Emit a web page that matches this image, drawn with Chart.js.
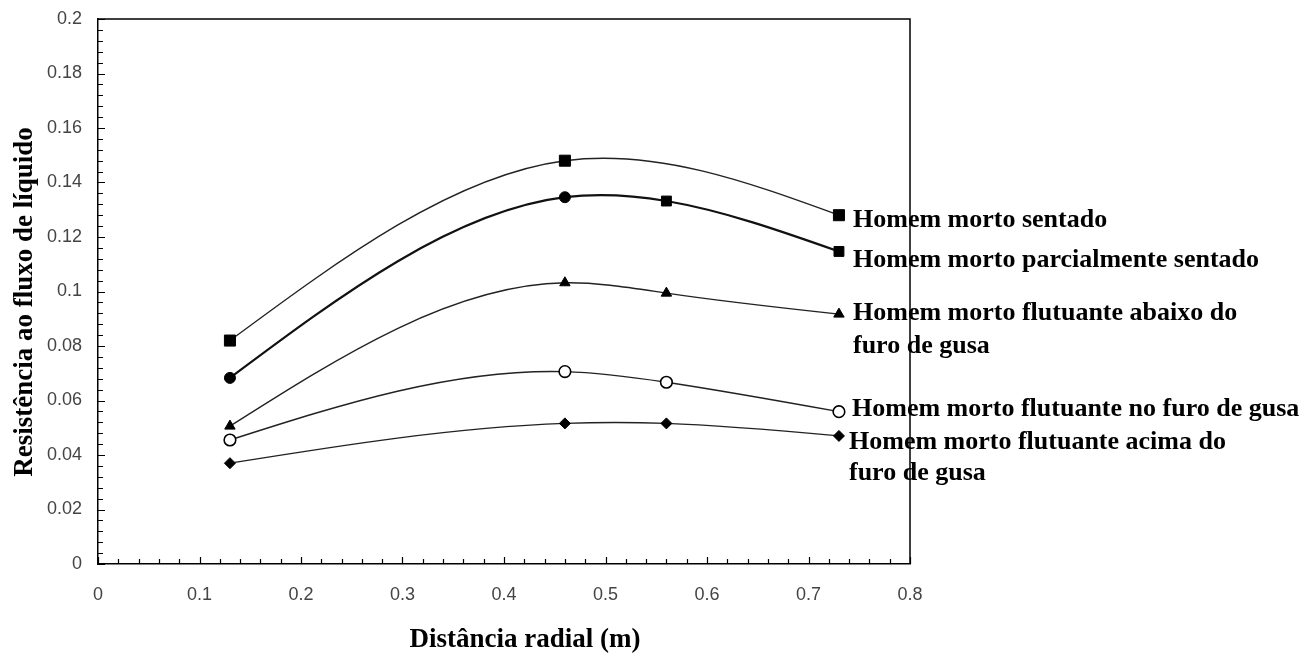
<!DOCTYPE html>
<html>
<head>
<meta charset="utf-8">
<script src="https://cdn.jsdelivr.net/npm/chart.js@4/dist/chart.umd.min.js"></script>
<style>
  html, body { margin: 0; padding: 0; background: #fff; }
  #wrap { width: 1311px; height: 655px; }
</style>
</head>
<body>
<div id="wrap"><canvas id="chart" width="1311" height="655"></canvas></div>
<script>
// radial positions (m)
const xAll = [0.13, 0.46, 0.56, 0.73];
const xSentado = [0.13, 0.46, 0.73];

// resistance values
const ySentado = [0.082, 0.148, 0.128];
const yParcial = [0.0683, 0.1346, 0.1332, 0.1147];
const yAbaixo = [0.0506, 0.1032, 0.0994, 0.0917];
const yNoFuro = [0.0455, 0.0706, 0.0667, 0.0559];
const yAcima = [0.037, 0.0516, 0.0516, 0.047];

const xTicks = [0, 0.1, 0.2, 0.3, 0.4, 0.5, 0.6, 0.7, 0.8];
const yTicks = [0, 0.02, 0.04, 0.06, 0.08, 0.1, 0.12, 0.14, 0.16, 0.18, 0.2];

const seriesLabels = [
    ['Homem morto sentado'],
    ['Homem morto parcialmente sentado'],
    ['Homem morto flutuante abaixo do', 'furo de gusa'],
    ['Homem morto flutuante no furo de gusa'],
    ['Homem morto flutuante acima do', 'furo de gusa']
];

function pts(xs, ys) {
    return xs.map((x, i) => ({ x: x, y: ys[i] }));
}

const serif = '"Liberation Serif", "Times New Roman", serif';

// natural cubic spline through the points chart.js placed,
// written into the line's bezier control points
function naturalSpline(points) {
    const n = points.length;
    if (n < 3) return;
    const x = points.map(p => p.x), y = points.map(p => p.y);
    const h = [];
    for (let i = 0; i < n - 1; i++) h.push(x[i + 1] - x[i]);
    // tridiagonal system for second derivatives, M0 = Mn-1 = 0
    const a = [], b = [], c = [], d = [];
    for (let i = 1; i < n - 1; i++) {
        a.push(h[i - 1]);
        b.push(2 * (h[i - 1] + h[i]));
        c.push(h[i]);
        d.push(6 * ((y[i + 1] - y[i]) / h[i] - (y[i] - y[i - 1]) / h[i - 1]));
    }
    const m = d.length;
    for (let i = 1; i < m; i++) {
        const w = a[i] / b[i - 1];
        b[i] -= w * c[i - 1];
        d[i] -= w * d[i - 1];
    }
    const inner = new Array(m);
    for (let i = m - 1; i >= 0; i--) {
        inner[i] = (d[i] - (i < m - 1 ? c[i] * inner[i + 1] : 0)) / b[i];
    }
    const M = [0].concat(inner, [0]);
    for (let i = 0; i < n - 1; i++) {
        const s = (y[i + 1] - y[i]) / h[i];
        const d0 = s - h[i] * (2 * M[i] + M[i + 1]) / 6;
        const d1 = s + h[i] * (M[i] + 2 * M[i + 1]) / 6;
        points[i].cp2x = x[i] + h[i] / 3;
        points[i].cp2y = y[i] + d0 * h[i] / 3;
        points[i + 1].cp1x = x[i + 1] - h[i] / 3;
        points[i + 1].cp1y = y[i + 1] - d1 * h[i] / 3;
    }
    points[0].cp1x = x[0]; points[0].cp1y = y[0];
    points[n - 1].cp2x = x[n - 1]; points[n - 1].cp2y = y[n - 1];
}

const smoothLines = {
    id: 'smoothLines',
    beforeDatasetsDraw(chart) {
        chart.data.datasets.forEach((ds, i) => {
            const meta = chart.getDatasetMeta(i);
            if (!meta.dataset) return;
            naturalSpline(meta.data);
            meta.dataset._pointsUpdated = true;
            meta.dataset._path = undefined;
        });
    }
};

// inside ticks, frame and text labels
const decorations = {
    id: 'decorations',
    afterDraw(chart) {
        const ctx = chart.ctx;
        const xs = chart.scales.x, ys = chart.scales.y;
        const a = chart.chartArea;
        ctx.save();
        ctx.strokeStyle = '#000';
        ctx.lineWidth = 1.5;
        ctx.beginPath();
        ctx.moveTo(a.left, a.top);
        ctx.lineTo(a.right, a.top);
        ctx.lineTo(a.right, a.bottom);
        ctx.stroke();

        ctx.lineWidth = 1.2;
        ctx.beginPath();
        for (let i = 0; i <= 50; i++) {
            const v = i * 0.004;
            const py = Math.round(ys.getPixelForValue(v)) + 0.5;
            const len = i % 5 === 0 ? 7 : 5;
            ctx.moveTo(a.left, py);
            ctx.lineTo(a.left + len, py);
        }
        for (let i = 0; i <= 40; i++) {
            const v = i * 0.02;
            const px = Math.round(xs.getPixelForValue(v)) + 0.5;
            const len = i % 5 === 0 ? 7 : 5;
            ctx.moveTo(px, a.bottom);
            ctx.lineTo(px, a.bottom - len);
        }
        ctx.stroke();

        // series labels on the right
        ctx.fillStyle = '#000';
        ctx.font = 'bold 26px ' + serif;
        ctx.textBaseline = 'middle';
        ctx.textAlign = 'left';
        const labelY = [[220], [260], [313, 346], [409], [442, 473]];
        const labelX = [853, 853, 853, 852, 849];
        seriesLabels.forEach((lines, i) => {
            lines.forEach((t, j) => ctx.fillText(t, labelX[i], labelY[i][j]));
        });

        // axis titles
        ctx.font = 'bold 27px ' + serif;
        ctx.textAlign = 'center';
        ctx.fillText('Distância radial (m)', 525, 640);
        ctx.translate(25, 302);
        ctx.rotate(-Math.PI / 2);
        ctx.fillText('Resistência ao fluxo de líquido', 0, 0);
        ctx.restore();
    }
};

function noPad(s) {
    s.paddingTop = 0;
    s.paddingBottom = 0;
    s.paddingLeft = 0;
    s.paddingRight = 0;
}

const lineBase = {
    showLine: true,
    tension: 0.4,
    borderColor: '#222',
    borderWidth: 1.4,
    backgroundColor: '#000',
    pointBorderColor: '#000',
    pointBorderWidth: 1,
    pointHoverRadius: 6
};

new Chart(document.getElementById('chart'), {
    type: 'scatter',
    data: {
        datasets: [
            Object.assign({}, lineBase, {
                label: seriesLabels[0].join(' '),
                data: pts(xSentado, ySentado),
                pointStyle: 'rect',
                pointRadius: 7.8
            }),
            Object.assign({}, lineBase, {
                label: seriesLabels[1].join(' '),
                data: pts(xAll, yParcial),
                borderWidth: 2.2,
                borderColor: '#111',
                pointStyle: ['circle', 'circle', 'rect', 'rect'],
                pointRadius: [5.5, 5.5, 7, 7]
            }),
            Object.assign({}, lineBase, {
                label: seriesLabels[2].join(' '),
                data: pts(xAll, yAbaixo),
                pointStyle: 'triangle',
                pointRadius: 6
            }),
            Object.assign({}, lineBase, {
                label: seriesLabels[3].join(' '),
                data: pts(xAll, yNoFuro),
                pointStyle: 'circle',
                pointRadius: 5.8,
                backgroundColor: '#fff',
                pointBorderWidth: 1.6
            }),
            Object.assign({}, lineBase, {
                label: seriesLabels[4].join(' '),
                data: pts(xAll, yAcima),
                pointStyle: 'rectRot',
                pointRadius: 5.5
            })
        ]
    },
    options: {
        responsive: false,
        animation: false,
        layout: { padding: { top: 19, right: 401, left: 0, bottom: 0 } },
        plugins: {
            legend: { display: false },
            tooltip: { enabled: false }
        },
        scales: {
            x: {
                type: 'linear',
                min: 0,
                max: 0.8,
                afterFit: s => { s.height = 91; noPad(s); },
                afterBuildTicks: s => { s.ticks = xTicks.map(v => ({ value: v })); },
                grid: { display: false, drawTicks: false },
                border: { display: true, color: '#000', width: 1.5 },
                ticks: {
                    padding: 20,
                    color: '#444',
                    font: { family: '"Liberation Sans", Arial, sans-serif', size: 18 },
                    callback: v => String(Number(v.toFixed(2)))
                }
            },
            y: {
                min: 0,
                max: 0.2,
                afterFit: s => { s.width = 98; noPad(s); },
                afterBuildTicks: s => { s.ticks = yTicks.map(v => ({ value: v })); },
                grid: { display: false, drawTicks: false },
                border: { display: true, color: '#000', width: 1.5 },
                ticks: {
                    padding: 16,
                    color: '#444',
                    font: { family: '"Liberation Sans", Arial, sans-serif', size: 18 },
                    callback: v => String(Number(v.toFixed(2)))
                }
            }
        }
    },
    plugins: [smoothLines, decorations]
});
</script>
</body>
</html>
